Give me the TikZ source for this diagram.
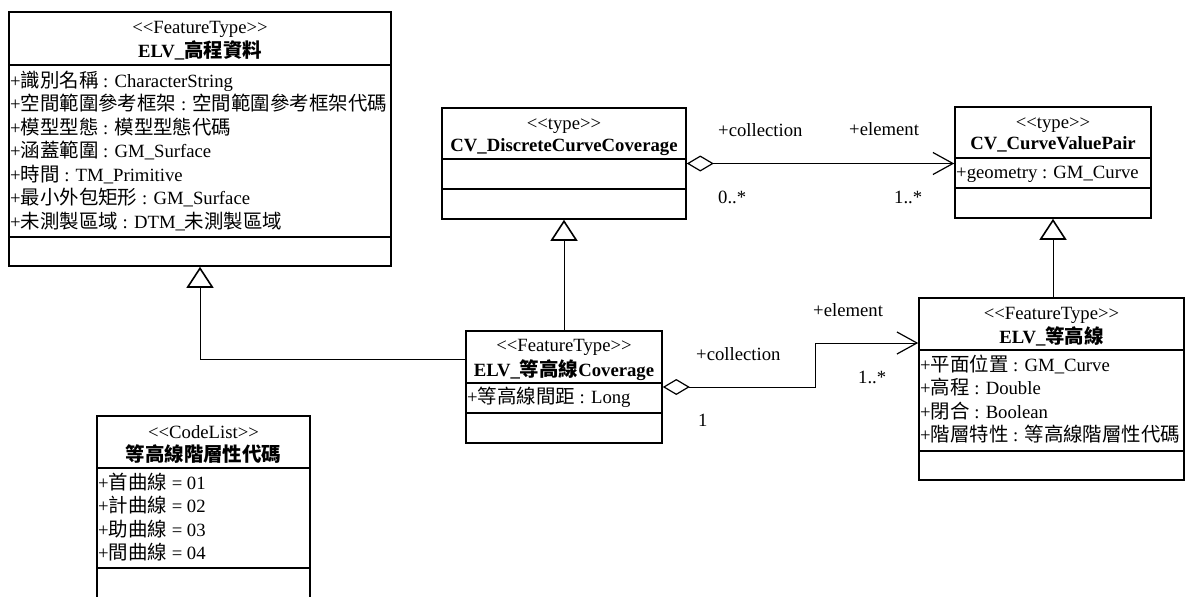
\documentclass[tikz,border=0pt]{standalone}
\usepackage{fontspec}
\setmainfont{Liberation Serif}
\newfontfamily\cjkfont[Scale=1.04]{Noto Sans CJK TC}
\newcommand\zh[1]{{\cjkfont #1}}
\newcommand\stereo[1]{<{}<#1>{}>}
\usetikzlibrary{arrows.meta}
\begin{document}
\begin{tikzpicture}[x=1pt,y=-1pt,
  cls/.style={draw,line width=1.6pt,inner sep=0pt},
  sepline/.style={line width=1.6pt},
  txt/.style={inner sep=0pt,text height=12pt,text depth=0pt,font=\fontsize{18.7}{22}\selectfont},
  attr/.style={txt,anchor=west},
  ttl/.style={txt,anchor=center},
  conn/.style={line width=1pt},
  agg/.style={conn,{Diamond[open,length=27pt,width=16pt,line width=1.2pt]}-{Straight Barb[length=20pt,width=22pt,line width=1.2pt]}},
  gen/.style={conn,-{Triangle[open,length=21pt,width=27pt,line width=1.6pt]}}
]
\fill[white] (0,0) rectangle (1186,597);
\useasboundingbox (0,0) rectangle (1186,597);

% ---------- ELV_高程資料 ----------
\node[cls,minimum width=382pt,minimum height=254pt] (A) at (200,139) {};
\draw[sepline] (A.west |- 0,65) -- (A.east |- 0,65);
\draw[sepline] (A.west |- 0,237) -- (A.east |- 0,237);
\node[ttl] (Ast) at (200,28) {\stereo{FeatureType}};
\node[ttl] (Anm) at (200,51) {\textbf{ELV\_\zh{高程資料}}};
\node[attr] (Aa1) at (10,81) {+\zh{識別名稱} : CharacterString};
\node[attr] (Aa2) at (10,104.5) {+\zh{空間範圍參考框架} : \zh{空間範圍參考框架代碼}};
\node[attr] (Aa3) at (10,128) {+\zh{模型型態} : \zh{模型型態代碼}};
\node[attr] (Aa4) at (10,151.5) {+\zh{涵蓋範圍} : GM\_Surface};
\node[attr] (Aa5) at (10,175) {+\zh{時間} : TM\_Primitive};
\node[attr] (Aa6) at (10,198.5) {+\zh{最小外包矩形} : GM\_Surface};
\node[attr] (Aa7) at (10,222) {+\zh{未測製區域} : DTM\_\zh{未測製區域}};

% ---------- CV_DiscreteCurveCoverage ----------
\node[cls,minimum width=244pt,minimum height=111pt] (B) at (564,163.5) {};
\draw[sepline] (B.west |- 0,159) -- (B.east |- 0,159);
\draw[sepline] (B.west |- 0,189) -- (B.east |- 0,189);
\node[ttl] (Bst) at (564,123) {\stereo{type}};
\node[ttl] (Bnm) at (564,145) {\textbf{CV\_DiscreteCurveCoverage}};

% ---------- CV_CurveValuePair ----------
\node[cls,minimum width=196pt,minimum height=111pt] (C) at (1053,162.5) {};
\draw[sepline] (C.west |- 0,158) -- (C.east |- 0,158);
\draw[sepline] (C.west |- 0,188) -- (C.east |- 0,188);
\node[ttl] (Cst) at (1053,122) {\stereo{type}};
\node[ttl] (Cnm) at (1053,143) {\textbf{CV\_CurveValuePair}};
\node[attr] (Ca1) at (956,172) {+geometry : GM\_Curve};

% ---------- ELV_等高線Coverage ----------
\node[cls,minimum width=196pt,minimum height=112pt] (D) at (564,387) {};
\draw[sepline] (D.west |- 0,383) -- (D.east |- 0,383);
\draw[sepline] (D.west |- 0,413) -- (D.east |- 0,413);
\node[ttl] (Dst) at (564,345) {\stereo{FeatureType}};
\node[ttl] (Dnm) at (564,370) {\textbf{ELV\_\zh{等高線}Coverage}};
\node[attr] (Da1) at (467,397) {+\zh{等高線間距} : Long};

% ---------- ELV_等高線 ----------
\node[cls,minimum width=265pt,minimum height=182pt] (E) at (1051.5,389) {};
\draw[sepline] (E.west |- 0,350) -- (E.east |- 0,350);
\draw[sepline] (E.west |- 0,451) -- (E.east |- 0,451);
\node[ttl] (Est) at (1051.5,313) {\stereo{FeatureType}};
\node[ttl] (Enm) at (1051.5,337) {\textbf{ELV\_\zh{等高線}}};
\node[attr] (Ea1) at (920,365) {+\zh{平面位置} : GM\_Curve};
\node[attr] (Ea2) at (920,388.5) {+\zh{高程} : Double};
\node[attr] (Ea3) at (920,412) {+\zh{閉合} : Boolean};
\node[attr] (Ea4) at (920,435.5) {+\zh{階層特性} : \zh{等高線階層性代碼}};

% ---------- 等高線階層性代碼 ----------
\node[cls,minimum width=213pt,minimum height=194pt] (F) at (203.5,513) {};
\draw[sepline] (F.west |- 0,468) -- (F.east |- 0,468);
\draw[sepline] (F.west |- 0,568) -- (F.east |- 0,568);
\node[ttl] (Fst) at (203.5,432) {\stereo{CodeList}};
\node[ttl] (Fnm) at (203.5,455) {\textbf{\zh{等高線階層性代碼}}};
\node[attr] (Fa1) at (98,483) {+\zh{首曲線} = 01};
\node[attr] (Fa2) at (98,506.5) {+\zh{計曲線} = 02};
\node[attr] (Fa3) at (98,530) {+\zh{助曲線} = 03};
\node[attr] (Fa4) at (98,553.5) {+\zh{間曲線} = 04};

% ---------- connectors ----------
\draw[agg] (B.east) -- (B.east -| C.west);
\coordinate (bend) at (815,343);
\draw[agg] (D.east) -| (bend) -- (bend -| E.west);
\draw[gen] ([yshift=28pt]D.west) -| (A.south);
\draw[gen] (D.north) -- (B.south);
\draw[gen] (E.north -| C.south) -- (C.south);

% ---------- role and multiplicity labels ----------
\node[attr] (l1) at (718,130) {+collection};
\node[attr] (l2) at (849,129) {+element};
\node[attr] (l3) at (718,197) {0..*};
\node[attr] (l4) at (894,197) {1..*};
\node[attr] (l5) at (696,354) {+collection};
\node[attr] (l6) at (813,310) {+element};
\node[attr] (l7) at (858,377) {1..*};
\node[attr] (l8) at (698,420) {1};
\end{tikzpicture}
\end{document}
